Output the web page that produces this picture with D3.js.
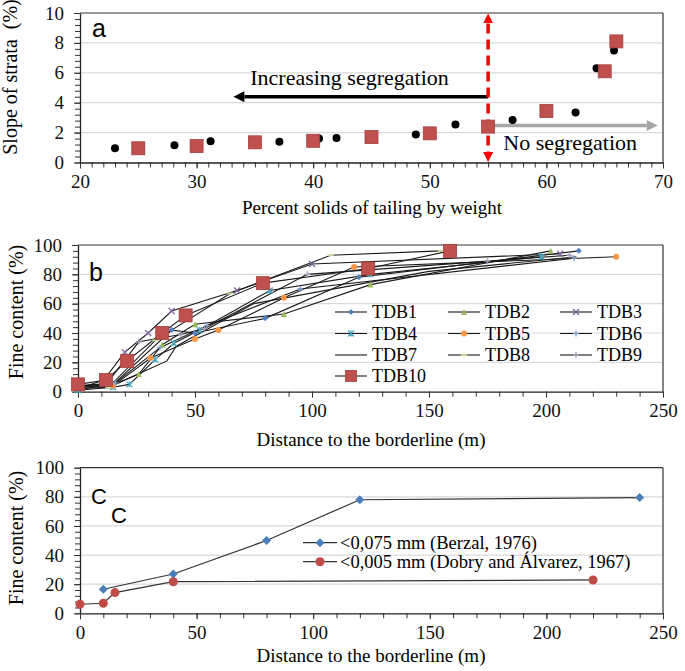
<!DOCTYPE html>
<html><head><meta charset="utf-8">
<script src="https://cdn.jsdelivr.net/npm/d3@7"></script>
<style>body{margin:0;background:#fff}svg{display:block}</style>
</head><body>
<svg id="c" width="685" height="671"></svg>
<script>
// ---- Panel a data ----
const aCircleX = [23, 28.1, 31.2, 37.1, 40.5, 42, 48.8, 52.2, 57.1, 62.5, 64.3, 65.8];
const aCircleY = [0.95, 1.15, 1.42, 1.38, 1.6, 1.64, 1.88, 2.55, 2.85, 3.35, 6.3, 7.5];
const aSquareX = [25, 30, 35, 40, 45, 50, 55, 60, 65, 66];
const aSquareY = [0.95, 1.1, 1.35, 1.45, 1.7, 1.95, 2.4, 3.45, 6.1, 8.1];
const aXTicks = [20, 30, 40, 50, 60, 70];
const aYTicks = [0, 2, 4, 6, 8, 10];

// ---- Panel b data ----
const bNames = ["TDB1","TDB2","TDB3","TDB4","TDB5","TDB6","TDB7","TDB8","TDB9","TDB10"];
const bSeries = [
  [[0,3],[15,5],[40,42],[50,40],[80,50],[120,78],[214,96]],
  [[0,2],[14,4],[26,12],[36,32],[50,46],[88,53],[125,73],[202,96]],
  [[0,2],[11,8],[20,27],[30,40],[40,55],[68,69],[100,87],[206,94]],
  [[0,1],[15,3],[22,5],[33,22],[41,33],[52,42],[82,69],[125,80],[198,92]],
  [[0,3],[15,4],[31,23],[50,36],[60,42],[88,64],[118,85],[230,92]],
  [[0,4],[16,6],[35,30],[55,45],[95,70],[212,91]],
  [[0,3],[16,5],[38,21],[42,31],[75,60],[150,82],[213,92]],
  [[0,2],[13,3],[33,35],[65,67],[108,93],[155,96]],
  [[0,4],[12,5],[26,34],[44,39],[54,43],[98,80],[175,89],[210,93]],
  [[0,5],[12,8],[21,21],[36,40],[46,52],[79,74],[124,84],[159,96]]
];
const bColors = ["#4F81BD","#9BBB59","#8064A2","#4BACC6","#F79646","#7F9FCF","#333333","#C3D69B","#A99BBD","#C0504D"];
const bMarkers = ["diamond","triangle","x","star","circle","plus","none","dash","plus","square"];
const bXTicks = [0, 50, 100, 150, 200, 250];
const bYTicks = [0, 20, 40, 60, 80, 100];

// ---- Panel c data ----
const cNames = ["<0,075 mm (Berzal, 1976)", "<0,005 mm (Dobry and Álvarez, 1967)"];
const cBerzal = [[10,16.5],[40,27],[80,50],[120,78],[240,79.5]];
const cDobry = [[0,6.2],[10,6.9],[15,14.2],[40,21.7],[220,22.9]];
const cColors = ["#4A7EBB","#BE4B48"];
const cXTicks = [0, 50, 100, 150, 200, 250];
const cYTicks = [0, 20, 40, 60, 80, 100];

const svg = d3.select("#c");
const SERIF = "'Liberation Serif', 'DejaVu Serif', serif";
const SANS = "'Liberation Sans', Arial, sans-serif";
const TICK_FS = 19, XT_FS = 19, YT_FS = 20;

function frame(g, x, y, xTicks, yTicks, xMinor, yMinor) {
  const [x0, x1] = x.range(), [y0, y1] = y.range();
  g.append("g").selectAll("line").data(yTicks.slice(1, -1)).join("line")
    .attr("x1", x0).attr("x2", x1).attr("y1", d => y(d)).attr("y2", d => y(d))
    .attr("stroke", "#d9d9d9").attr("stroke-width", 1.2);
  g.append("line").attr("x1", x0).attr("x2", x1).attr("y1", y1).attr("y2", y1).attr("stroke", "#333").attr("stroke-width", 1.2);
  g.append("line").attr("x1", x1).attr("x2", x1).attr("y1", y1).attr("y2", y0).attr("stroke", "#333").attr("stroke-width", 1.2);
  const xa = g.append("g").attr("transform", `translate(0,${y0})`)
    .call(d3.axisBottom(x).tickValues(xMinor).tickSize(5).tickFormat(""));
  xa.select(".domain").remove();
  const xb = g.append("g").attr("transform", `translate(0,${y0})`)
    .call(d3.axisBottom(x).tickValues(xTicks).tickSize(6).tickPadding(6).tickSizeOuter(0));
  xb.selectAll("text").attr("font-family", SERIF).attr("font-size", TICK_FS).attr("fill", "#111");
  const ya = g.append("g").attr("transform", `translate(${x0},0)`)
    .call(d3.axisLeft(y).tickValues(yMinor).tickSize(5).tickFormat(""));
  ya.select(".domain").remove();
  const yb = g.append("g").attr("transform", `translate(${x0},0)`)
    .call(d3.axisLeft(y).tickValues(yTicks).tickSize(6).tickPadding(10).tickSizeOuter(0));
  yb.selectAll("text").attr("font-family", SERIF).attr("font-size", TICK_FS).attr("fill", "#111");
  g.selectAll(".domain").attr("stroke", "#222").attr("stroke-width", 1.3);
  g.selectAll(".tick line").attr("stroke", "#333");
}

// ================= Panel a =================
{
  const x = d3.scaleLinear().domain([20, 70]).range([80, 663]);
  const y = d3.scaleLinear().domain([0, 10]).range([162.5, 13]);
  const g = svg.append("g");
  frame(g, x, y, aXTicks, aYTicks, d3.range(20, 70.1, 1), d3.range(0, 10.01, 0.4));
  g.append("text").attr("x", 92).attr("y", 37).attr("font-family", SANS).attr("font-size", 25).text("a");
  const defs = svg.append("defs");
  function marker(id, color, w, h) {
    defs.append("marker").attr("id", id).attr("viewBox", "0 0 10 10").attr("refX", 0).attr("refY", 5)
      .attr("markerWidth", w).attr("markerHeight", h).attr("orient", "auto-start-reverse")
      .attr("markerUnits", "userSpaceOnUse")
      .append("path").attr("d", "M0,0 L10,5 L0,10 z").attr("fill", color);
  }
  marker("ab", "#000", 12, 11);
  marker("ag", "#a6a6a6", 12, 11);
  marker("ar", "#ff0000", 10, 10);
  g.append("line").attr("x1", x(55)).attr("x2", x(34.1)).attr("y1", y(4.4)).attr("y2", y(4.4))
    .attr("stroke", "#000").attr("stroke-width", 3.5).attr("marker-end", "url(#ab)");
  g.append("line").attr("x1", x(55.1)).attr("x2", x(68.6)).attr("y1", y(2.47)).attr("y2", y(2.47))
    .attr("stroke", "#a6a6a6").attr("stroke-width", 3.5).attr("marker-end", "url(#ag)");
  g.append("line").attr("x1", x(55)).attr("x2", x(55)).attr("y1", y(9.3)).attr("y2", y(0.7))
    .attr("stroke", "#ff0000").attr("stroke-width", 3.5).attr("stroke-dasharray", "10,6")
    .attr("marker-start", "url(#ar)").attr("marker-end", "url(#ar)");
  g.append("text").attr("x", x(34.6)).attr("y", y(5.2)).attr("font-family", SERIF).attr("font-size", 22).text("Increasing segregation");
  g.append("text").attr("x", x(56.3)).attr("y", y(0.84)).attr("font-family", SERIF).attr("font-size", 22).text("No segregation");
  g.append("g").selectAll("circle").data(aCircleX).join("circle")
    .attr("cx", d => x(d)).attr("cy", (d, i) => y(aCircleY[i])).attr("r", 4).attr("fill", "#000");
  g.append("g").selectAll("rect").data(aSquareX).join("rect")
    .attr("x", d => x(d) - 6.5).attr("y", (d, i) => y(aSquareY[i]) - 6.5).attr("width", 13).attr("height", 13)
    .attr("fill", "#C0504D").attr("stroke", "#a43f3c").attr("stroke-width", 0.8);
  g.append("text").attr("x", 372).attr("y", 214).attr("text-anchor", "middle")
    .attr("font-family", SERIF).attr("font-size", XT_FS).text("Percent solids of tailing by weight");
  g.append("text").attr("transform", `translate(17,77) rotate(-90)`).attr("text-anchor", "middle")
    .attr("font-family", SERIF).attr("font-size", YT_FS).text("Slope of strata\u00a0 (%)");
}

function drawMarker(sel, type, color, size) {
  const s = size;
  if (type === "none") return;
  if (type === "square") {
    sel.append("rect").attr("x", -s / 2).attr("y", -s / 2).attr("width", s).attr("height", s).attr("fill", color).attr("stroke", "#a43f3c").attr("stroke-width", 0.8);
  } else if (type === "diamond") {
    sel.append("path").attr("d", `M0,${-s/2}L${s/2},0L0,${s/2}L${-s/2},0Z`).attr("fill", color);
  } else if (type === "triangle") {
    sel.append("path").attr("d", `M0,${-s/2}L${s/2},${s/2}L${-s/2},${s/2}Z`).attr("fill", color);
  } else if (type === "circle") {
    sel.append("circle").attr("r", s / 2).attr("fill", color);
  } else if (type === "x") {
    sel.append("path").attr("d", `M${-s/2},${-s/2}L${s/2},${s/2}M${-s/2},${s/2}L${s/2},${-s/2}`).attr("stroke", color).attr("stroke-width", 1.3);
  } else if (type === "star") {
    sel.append("path").attr("d", `M${-s/2},${-s/2}L${s/2},${s/2}M${-s/2},${s/2}L${s/2},${-s/2}M0,${-s/2}L0,${s/2}`).attr("stroke", color).attr("stroke-width", 1.3);
  } else if (type === "plus") {
    sel.append("path").attr("d", `M0,${-s/2}L0,${s/2}M${-s/2},0L${s/2},0`).attr("stroke", color).attr("stroke-width", 1.3);
  } else if (type === "dash") {
    sel.append("path").attr("d", `M${-s/2},0L${s/2},0`).attr("stroke", color).attr("stroke-width", 2);
  }
}

// ================= Panel b =================
{
  const x = d3.scaleLinear().domain([0, 250]).range([78, 663]);
  const y = d3.scaleLinear().domain([0, 100]).range([391.7, 245]);
  const g = svg.append("g");
  frame(g, x, y, bXTicks, bYTicks, d3.range(0, 250.1, 10), d3.range(0, 100.1, 4));
  g.append("text").attr("x", 89).attr("y", 281).attr("font-family", SANS).attr("font-size", 25).text("b");
  const line = d3.line().x(d => x(d[0])).y(d => y(d[1]));
  bSeries.forEach((s, i) => {
    g.append("path").datum(s).attr("d", line).attr("fill", "none").attr("stroke", "#1a1a1a").attr("stroke-width", 1.1);
  });
  bSeries.forEach((s, i) => {
    const sz = i === 9 ? 13 : 6;
    s.forEach(p => {
      const m = g.append("g").attr("transform", `translate(${x(p[0])},${y(p[1])})`);
      drawMarker(m, bMarkers[i], bColors[i], sz);
    });
  });
  const colX = [335, 448, 560];
  const rowY = [312, 333.5, 355, 376];
  bNames.forEach((n, i) => {
    const cx = colX[i % 3], cy = rowY[Math.floor(i / 3)];
    const lg = g.append("g");
    lg.append("line").attr("x1", cx).attr("x2", cx + 32).attr("y1", cy).attr("y2", cy).attr("stroke", "#1a1a1a").attr("stroke-width", 1.1);
    const m = lg.append("g").attr("transform", `translate(${cx + 16},${cy})`);
    drawMarker(m, bMarkers[i], bColors[i], i === 9 ? 11 : 6);
    lg.append("text").attr("x", cx + 37).attr("y", cy + 6).attr("font-family", SERIF).attr("font-size", 18).text(n);
  });
  g.append("text").attr("x", 371).attr("y", 446).attr("text-anchor", "middle")
    .attr("font-family", SERIF).attr("font-size", XT_FS).text("Distance to the borderline (m)");
  g.append("text").attr("transform", `translate(23,312) rotate(-90)`).attr("text-anchor", "middle")
    .attr("font-family", SERIF).attr("font-size", YT_FS).text("Fine content (%)");
}

// ================= Panel c =================
{
  const x = d3.scaleLinear().domain([0, 250]).range([80, 663]);
  const y = d3.scaleLinear().domain([0, 100]).range([613.3, 467.7]);
  const g = svg.append("g");
  frame(g, x, y, cXTicks, cYTicks, d3.range(0, 250.1, 10), d3.range(0, 100.1, 4));
  g.append("text").attr("x", 91).attr("y", 504).attr("font-family", SANS).attr("font-size", 22).text("C");
  g.append("text").attr("x", 111).attr("y", 523).attr("font-family", SANS).attr("font-size", 22).text("C");
  const line = d3.line().x(d => x(d[0])).y(d => y(d[1]));
  [cBerzal, cDobry].forEach((s, i) => {
    g.append("path").datum(s).attr("d", line).attr("fill", "none").attr("stroke", "#333").attr("stroke-width", 1.2);
  });
  [cBerzal, cDobry].forEach((s, i) => {
    s.forEach(p => {
      const m = g.append("g").attr("transform", `translate(${x(p[0])},${y(p[1])})`);
      drawMarker(m, i === 0 ? "diamond" : "circle", cColors[i], 9);
    });
  });
  const rowY = [542.7, 561.7];
  cNames.forEach((n, i) => {
    const lg = g.append("g");
    lg.append("line").attr("x1", 303).attr("x2", 337).attr("y1", rowY[i]).attr("y2", rowY[i]).attr("stroke", "#333").attr("stroke-width", 1.2);
    const m = lg.append("g").attr("transform", `translate(320,${rowY[i]})`);
    drawMarker(m, i === 0 ? "diamond" : "circle", cColors[i], 9);
    lg.append("text").attr("x", 340).attr("y", rowY[i] + 6).attr("font-family", SERIF).attr("font-size", 18.5).text(n);
  });
  g.append("text").attr("x", 371).attr("y", 662).attr("text-anchor", "middle")
    .attr("font-family", SERIF).attr("font-size", XT_FS).text("Distance to the borderline (m)");
  g.append("text").attr("transform", `translate(23,538) rotate(-90)`).attr("text-anchor", "middle")
    .attr("font-family", SERIF).attr("font-size", YT_FS).text("Fine content (%)");
}
</script>
</body></html>
